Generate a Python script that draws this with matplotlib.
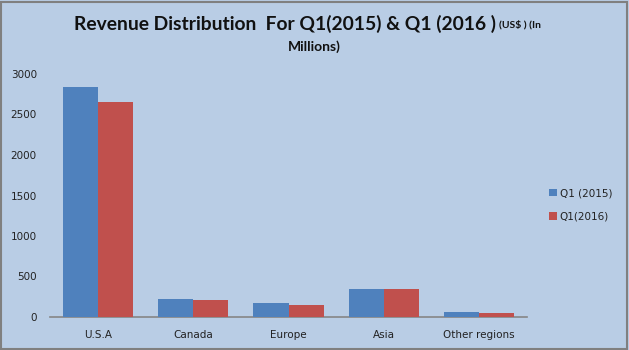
import numpy as np
import matplotlib.pyplot as plt
from matplotlib.patches import Rectangle

regions = ['U.S.A', 'Canada', 'Europe', 'Asia', 'Other regions']
q1_2015 = [2840, 225, 175, 350, 65]
q1_2016 = [2660, 210, 150, 350, 50]
series_names = ['Q1 (2015)', 'Q1(2016)']

bg = '#B9CDE5'
blue = '#4F81BD'
red = '#C0504D'

W, H = 629, 350
fig = plt.figure(figsize=(W / 100, H / 100), dpi=100, facecolor=bg)
fig.patches.append(Rectangle((1 / W, 1 / H), 1 - 3 / W, 1 - 3 / H, transform=fig.transFigure,
                             fill=False, edgecolor='#808080', linewidth=1.5))

ax = fig.add_axes([50 / W, (H - 317) / H, (527 - 50) / W, (317 - 74) / H])
ax.set_facecolor(bg)

x = np.arange(len(regions))
bw = 0.367
ax.bar(x - bw / 2, q1_2015, width=bw, color=blue, label=series_names[0], zorder=3)
ax.bar(x + bw / 2, q1_2016, width=bw, color=red, label=series_names[1], zorder=3)

ax.set_xlim(-0.5, len(regions) - 0.5)
ax.set_ylim(0, 3000)
ax.set_yticks(np.arange(0, 3001, 500))
ax.set_xticks(x)
ax.set_xticklabels(regions)
for s in ['top', 'right', 'left']:
    ax.spines[s].set_visible(False)
ax.spines['bottom'].set_color('#868686')
ax.spines['bottom'].set_linewidth(1.2)
ax.tick_params(axis='both', length=0, labelsize=7.5, colors='#222222')
ax.tick_params(axis='x', pad=9)
ax.tick_params(axis='y', pad=9.5)

ax.legend(loc='center left', bbox_to_anchor=(540 / W, (H - 205) / H), bbox_transform=fig.transFigure,
          frameon=False, fontsize=7.5, handlelength=0.7, handleheight=0.7, handletextpad=0.3,
          labelspacing=1.3, labelcolor='#222222')

# title: main part large, units part smaller, wrapping onto a second line
fig.text(496 / W, 1 - 24 / H, 'Revenue Distribution  For Q1(2015) & Q1 (2016 )', fontsize=13.9,
         family='Lato', fontweight='bold', ha='right', va='center', color='#111111')
fig.text(499 / W, 1 - 25 / H, '(US$ ) (In', fontsize=7.5, family='Lato', fontweight='bold',
         ha='left', va='center', color='#111111')
fig.text(314 / W, 1 - 47 / H, 'Millions)', fontsize=10, family='Lato', fontweight='bold',
         ha='center', va='center', color='#111111')

fig.savefig('out.png', dpi=100, facecolor=bg)
